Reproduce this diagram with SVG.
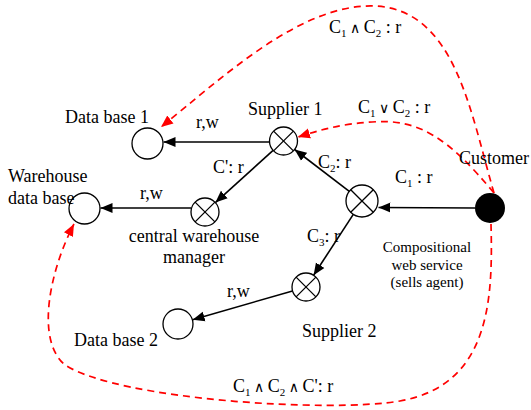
<svg xmlns="http://www.w3.org/2000/svg" width="531" height="410" viewBox="0 0 531 410">
<style>
text{font-family:"Liberation Serif","DejaVu Serif",serif;font-size:18px;fill:#000}
.small{font-size:15px}
.sub{font-size:11px}
.op{font-size:14px}
.node{fill:#fff;stroke:#000;stroke-width:1.3}
.x{stroke:#000;stroke-width:1.3}
.arr{stroke:#000;stroke-width:1.6;fill:none;marker-end:url(#ab)}
.dash{stroke:#f00;stroke-width:1.7;fill:none;stroke-dasharray:7 5;marker-end:url(#ar)}
</style>
<defs>
<marker id="ab" markerUnits="userSpaceOnUse" markerWidth="14" markerHeight="12" refX="12" refY="5" orient="auto" viewBox="0 0 14 10">
<path d="M0,0 L12,5 L0,10 z" fill="#000"/>
</marker>
<marker id="ar" markerUnits="userSpaceOnUse" markerWidth="14" markerHeight="12" refX="12" refY="5" orient="auto" viewBox="0 0 14 10">
<path d="M0,0 L12,5 L0,10 z" fill="#f00"/>
</marker>
</defs>
<g id="connectors">
<line class="arr" x1="269.5" y1="142" x2="163.5" y2="142"/>
<line class="arr" x1="273.1" y1="150.4" x2="215.4" y2="202.6"/>
<line class="arr" x1="191" y1="208" x2="100.5" y2="208"/>
<line class="arr" x1="349.3" y1="191.3" x2="294.6" y2="149.5"/>
<line class="arr" x1="475" y1="208" x2="378.5" y2="207.5"/>
<line class="arr" x1="353.3" y1="214.4" x2="313.6" y2="275.3"/>
<line class="arr" x1="292.5" y1="290.9" x2="192.6" y2="319.8"/>
<path class="dash" d="M494 193 C470 110 455 10 375 6 C300 3 220 80 161 127"/>
<path class="dash" d="M494 193 C450 140 420 118 372 122 C340 124 320 130 298 137"/>
<path class="dash" d="M491 224 C493 300 490 385 400 401 C330 413 120 400 65 365 C35 340 50 270 74 224"/>
<text x="196" y="128">r,w</text>
<text x="213" y="173">C': r</text>
<text x="140" y="199">r,w</text>
<text x="318" y="168">C<tspan class="sub" dy="4">2</tspan><tspan dy="-4">: r</tspan></text>
<text x="395" y="183">C<tspan class="sub" dy="4">1</tspan><tspan dy="-4"> : r</tspan></text>
<text x="307" y="242">C<tspan class="sub" dy="4">3</tspan><tspan dy="-4">: r</tspan></text>
<text x="227" y="297">r,w</text>
<text x="329" y="33">C<tspan class="sub" dy="4">1</tspan><tspan class="op" dy="-4"> ∧ </tspan><tspan>C</tspan><tspan class="sub" dy="4">2</tspan><tspan dy="-4"> : r</tspan></text>
<text x="358" y="113">C<tspan class="sub" dy="4">1</tspan><tspan class="op" dy="-4"> ∨ </tspan><tspan>C</tspan><tspan class="sub" dy="4">2</tspan><tspan dy="-4"> : r</tspan></text>
<text x="233" y="392">C<tspan class="sub" dy="4">1</tspan><tspan class="op" dy="-4"> ∧ </tspan><tspan>C</tspan><tspan class="sub" dy="4">2</tspan><tspan class="op" dy="-4"> ∧ </tspan><tspan>C': r</tspan></text>
</g>
<g id="db1">
<circle class="node" cx="147.5" cy="143.5" r="15.5"/>
<text x="65" y="123">Data base 1</text>
</g>
<g id="warehouse-db">
<circle class="node" cx="84.5" cy="208.5" r="15.5"/>
<text x="8" y="182">Warehouse</text>
<text x="8" y="204">data base</text>
</g>
<g id="central-manager">
<circle class="node" cx="205" cy="212" r="14"/>
<line class="x" x1="195.1" y1="202.1" x2="214.9" y2="221.9"/>
<line class="x" x1="214.9" y1="202.1" x2="195.1" y2="221.9"/>
<text x="194" y="242" text-anchor="middle">central warehouse</text>
<text x="194" y="263" text-anchor="middle">manager</text>
</g>
<g id="supplier1">
<circle class="node" cx="283.5" cy="141" r="14"/>
<line class="x" x1="273.6" y1="131.1" x2="293.4" y2="150.9"/>
<line class="x" x1="293.4" y1="131.1" x2="273.6" y2="150.9"/>
<text x="248" y="115">Supplier 1</text>
</g>
<g id="sells-agent">
<circle class="node" cx="362" cy="201" r="16"/>
<line class="x" x1="350.7" y1="189.7" x2="373.3" y2="212.3"/>
<line class="x" x1="373.3" y1="189.7" x2="350.7" y2="212.3"/>
<text class="small" x="427" y="252" text-anchor="middle">Compositional</text>
<text class="small" x="427" y="270" text-anchor="middle">web service</text>
<text class="small" x="427" y="287" text-anchor="middle">(sells agent)</text>
</g>
<g id="supplier2">
<circle class="node" cx="306" cy="287" r="14"/>
<line class="x" x1="296.1" y1="277.1" x2="315.9" y2="296.9"/>
<line class="x" x1="315.9" y1="277.1" x2="296.1" y2="296.9"/>
<text x="302" y="337">Supplier 2</text>
</g>
<g id="db2">
<circle class="node" cx="178" cy="324" r="15"/>
<text x="74" y="346">Data base 2</text>
</g>
<g id="customer">
<circle cx="490" cy="208" r="15" fill="#000"/>
<text x="459" y="164">Customer</text>
</g>
</svg>
